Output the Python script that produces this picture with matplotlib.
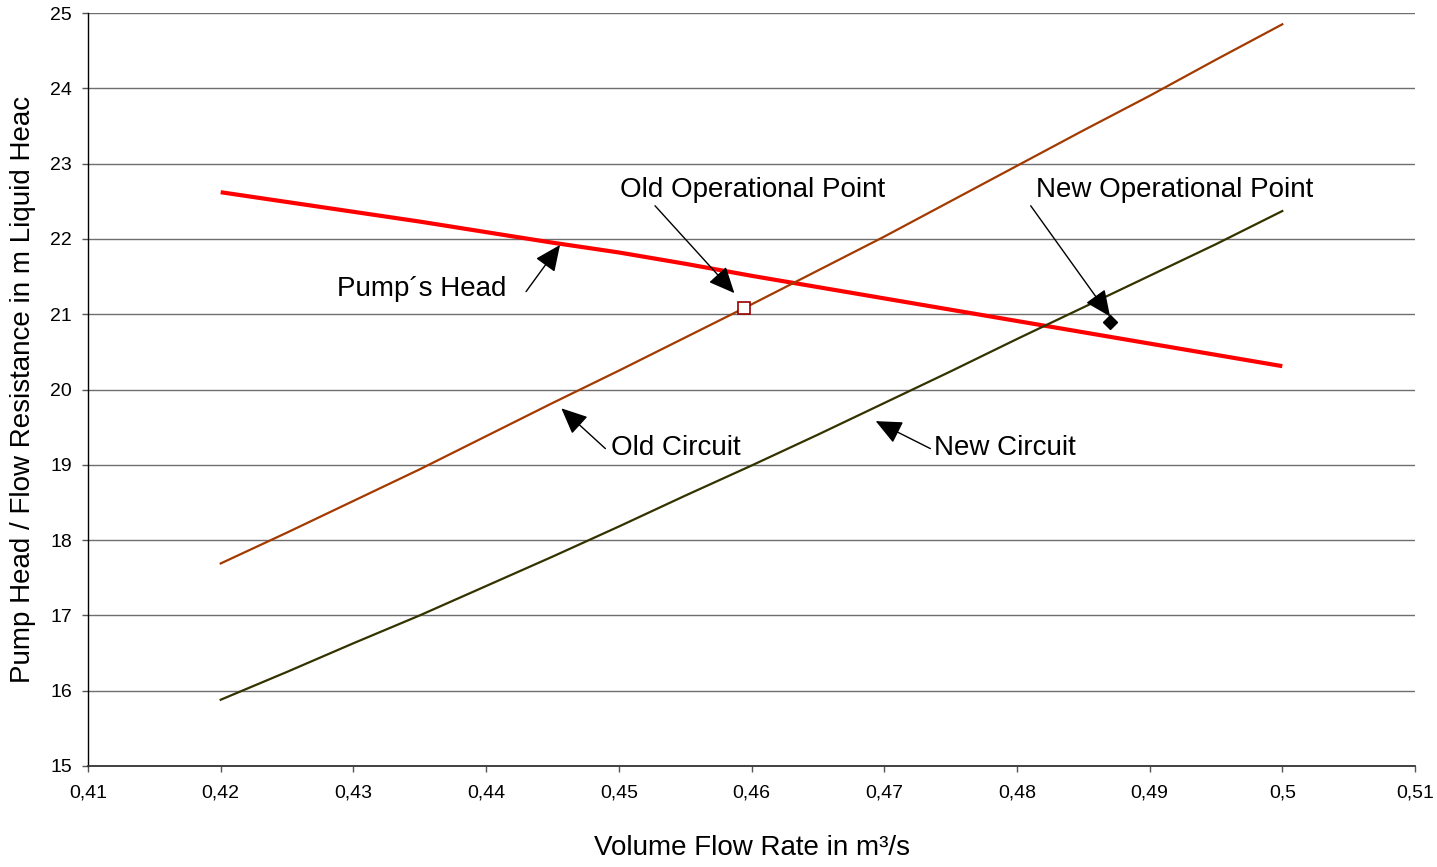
import matplotlib
matplotlib.use("Agg")
import matplotlib.pyplot as plt

plt.rcParams['font.family'] = ['Liberation Sans', 'DejaVu Sans']

# ---- data ----
flow = [0.420, 0.425, 0.430, 0.435, 0.440, 0.445, 0.450, 0.455, 0.460,
        0.465, 0.470, 0.475, 0.480, 0.485, 0.490, 0.495, 0.500]
pump_head = [22.62, 22.49, 22.36, 22.23, 22.09, 21.95, 21.82, 21.67, 21.51,
             21.36, 21.21, 21.06, 20.91, 20.76, 20.61, 20.46, 20.31]
old_circuit = [17.69, 18.10, 18.52, 18.94, 19.38, 19.82, 20.25, 20.69, 21.13,
               21.58, 22.03, 22.50, 22.97, 23.44, 23.90, 24.38, 24.85]
new_circuit = [15.88, 16.25, 16.63, 17.00, 17.39, 17.78, 18.18, 18.59, 18.99,
               19.40, 19.82, 20.24, 20.67, 21.09, 21.51, 21.93, 22.37]

old_point = (0.4594, 21.08)
new_point = (0.4870, 20.89)

x_ticks = [0.41, 0.42, 0.43, 0.44, 0.45, 0.46, 0.47, 0.48, 0.49, 0.50, 0.51]
x_tick_labels = ['0,41', '0,42', '0,43', '0,44', '0,45', '0,46', '0,47',
                 '0,48', '0,49', '0,5', '0,51']
y_ticks = [15, 16, 17, 18, 19, 20, 21, 22, 23, 24, 25]

# annotation texts: (label, text position, arrow tail, arrow tip)
annotations = [
    ("Pump\u00b4s Head", (0.43517, 21.24), (0.44301, 21.30), (0.44557, 21.92)),
    ("Old Operational Point", (0.46008, 22.56), (0.45273, 22.44), (0.45871, 21.28)),
    ("New Operational Point", (0.49191, 22.56), (0.48104, 22.44), (0.48702, 20.97)),
    ("Old Circuit", (0.45429, 19.13), (0.44899, 19.215), (0.44567, 19.75)),
    ("New Circuit", (0.47912, 19.13), (0.47348, 19.215), (0.46936, 19.58)),
]

fig = plt.figure(figsize=(14.37, 8.67), dpi=100)
ax = fig.add_axes([88 / 1437, 101 / 867, 1327 / 1437, 753 / 867])

ax.set_xlim(0.41, 0.51)
ax.set_ylim(15, 25)
ax.set_xticks(x_ticks)
ax.set_xticklabels(x_tick_labels)
ax.set_yticks(y_ticks)

ax.yaxis.grid(True, color='#6e6e6e', linewidth=1.0)
ax.set_axisbelow(True)
for s in ('top', 'right'):
    ax.spines[s].set_visible(False)
ax.spines['left'].set_color('black')
ax.spines['bottom'].set_color('#333333')
ax.spines['left'].set_linewidth(1.0)
ax.spines['bottom'].set_linewidth(1.3)

ax.tick_params(axis='x', direction='out', length=4.3, width=1, color='#555555',
               labelsize=14, pad=9)
ax.tick_params(axis='y', direction='out', length=4.3, width=1, color='#555555',
               labelsize=14, pad=7.4)

ax.plot(flow, pump_head, color='#ff0000', linewidth=3.0, solid_capstyle='butt', zorder=3)
ax.plot(flow, old_circuit, color='#a33a00', linewidth=1.6, zorder=3)
ax.plot(flow, new_circuit, color='#333300', linewidth=1.6, zorder=3)

ax.plot([old_point[0]], [old_point[1]], marker='s', markersize=9,
        markerfacecolor='white', markeredgecolor='#990000', markeredgewidth=1.2,
        linestyle='none', zorder=5)
ax.plot([new_point[0]], [new_point[1]], marker='D', markersize=7.5,
        markerfacecolor='black', markeredgecolor='black',
        linestyle='none', zorder=5)

for label, tpos, tail, tip in annotations:
    ax.text(tpos[0], tpos[1], label, fontsize=20, ha='center', va='baseline',
            color='black', zorder=6)
    ax.annotate('', xy=tip, xytext=tail,
                arrowprops=dict(arrowstyle='-|>,head_length=0.6,head_width=0.27',
                                color='black', lw=1.0, shrinkA=0, shrinkB=0,
                                mutation_scale=27),
                zorder=6)

ax.set_xlabel('Volume Flow Rate in m\u00b3/s', fontsize=20)
ax.set_ylabel('Pump Head / Flow Resistance in m Liquid Heac', fontsize=20)
ax.xaxis.set_label_coords(0.5, -0.091)
ax.yaxis.set_label_coords(-0.039, 0.5)

fig.savefig('out.png', dpi=100)
